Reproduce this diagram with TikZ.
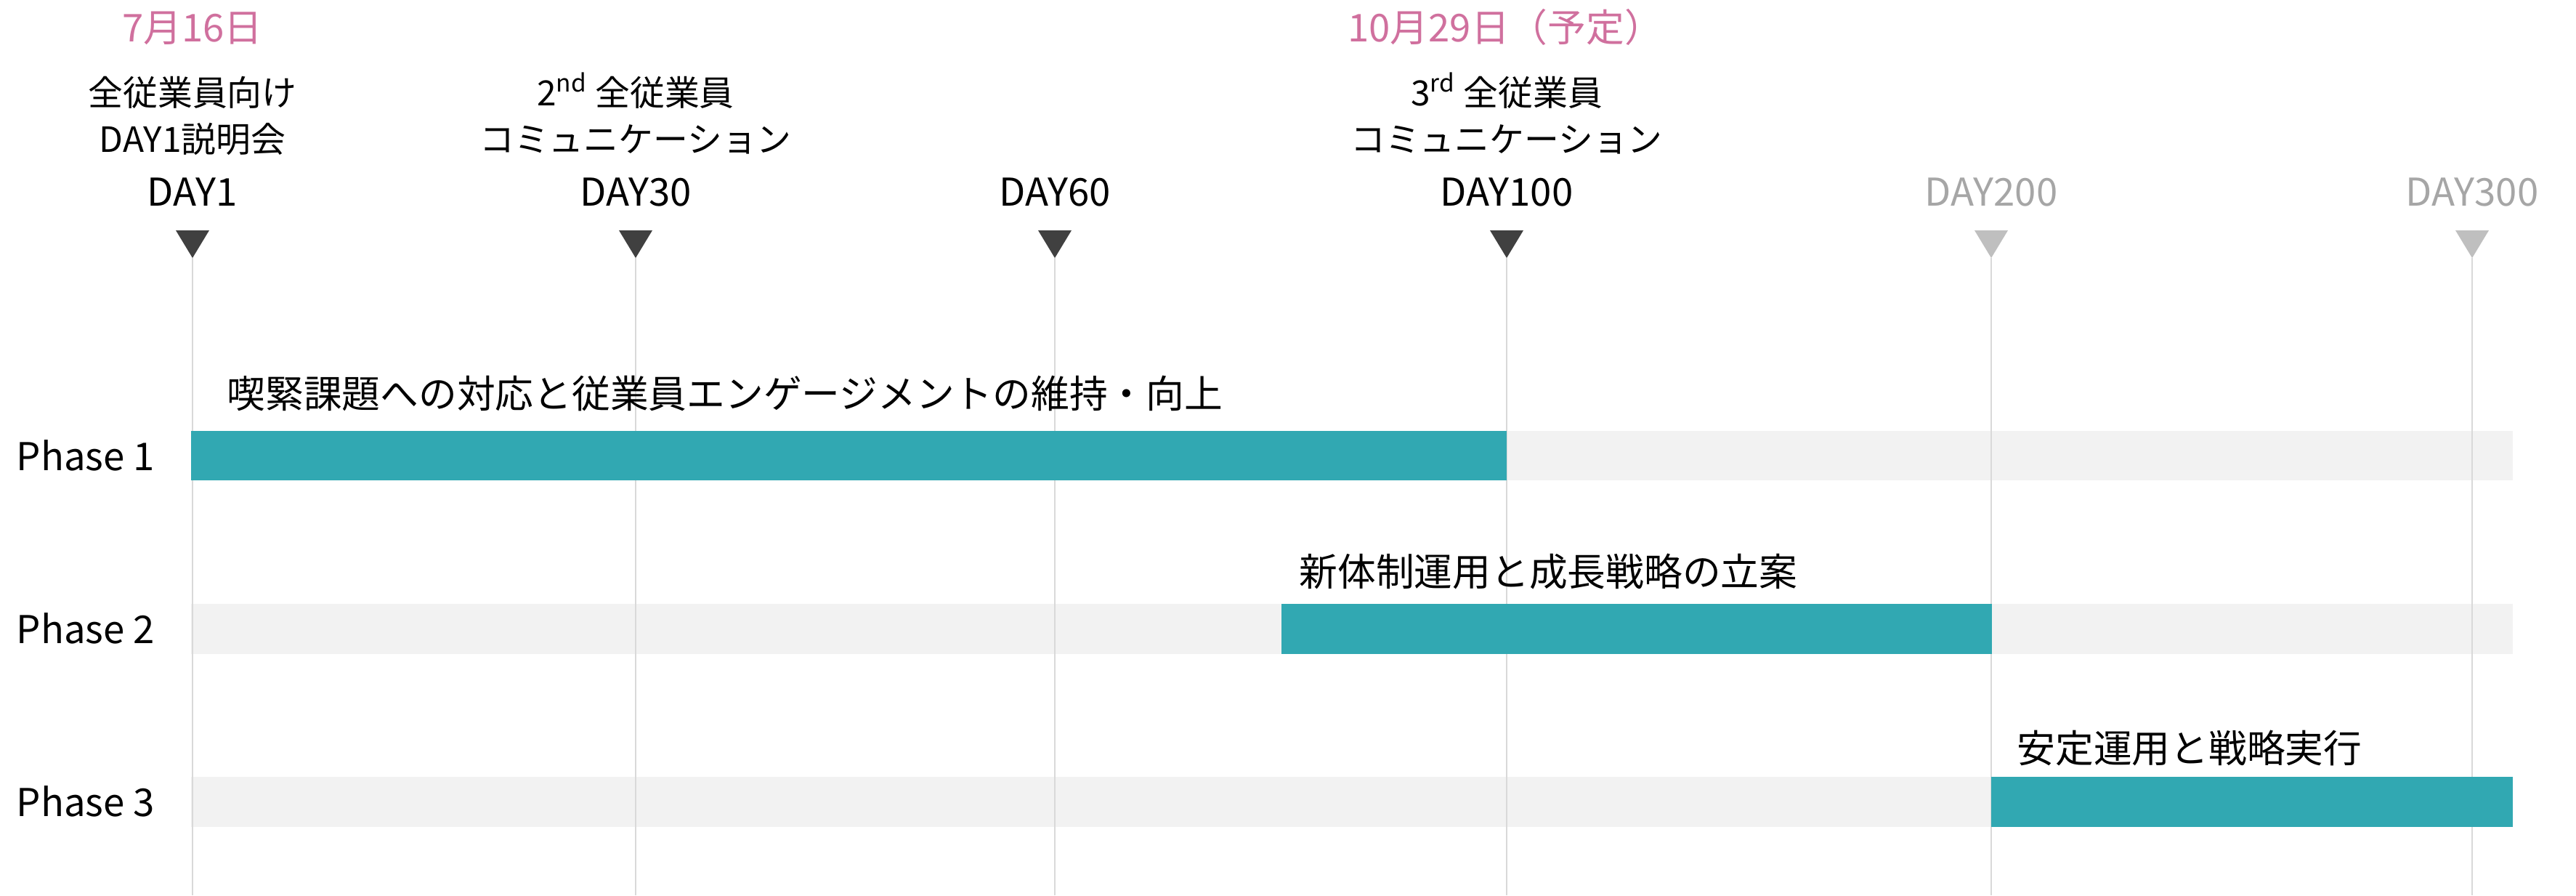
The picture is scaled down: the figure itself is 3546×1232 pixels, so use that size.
\documentclass[tikz,border=0pt]{standalone}
\usepackage{fontspec}
\setmainfont{Noto Sans CJK JP}
\usepackage{tikz}
\usetikzlibrary{positioning}
\definecolor{barteal}{RGB}{49,168,178}
\definecolor{rowgray}{RGB}{242,242,242}
\definecolor{gridgray}{RGB}{217,217,217}
\definecolor{tickdark}{RGB}{64,64,64}
\definecolor{ticklight}{RGB}{191,191,191}
\definecolor{daygray}{RGB}{166,166,166}
\definecolor{datepink}{RGB}{208,112,158}

\begin{document}
\begin{tikzpicture}[x=0.01cm,y=-0.01cm,
    txt/.style={inner sep=0pt,font=\fontsize{15}{18}\selectfont},
    ctxt/.style={txt,anchor=base},
    etxt/.style={ctxt,font=\fontsize{13.6}{16}\selectfont},
    ltxt/.style={txt,anchor=base west}]
    \useasboundingbox (0,0) rectangle (3546,1232);
    \coordinate (bottom) at (0,1232);
    \fill[rowgray] (263,593) rectangle (3459,661);
    \fill[rowgray] (263,831) rectangle (3459,900);
    \fill[rowgray] (263,1069) rectangle (3459,1138);
    \foreach \x/\n/\c in {265/1/tickdark,875/30/tickdark,1452/60/tickdark,2074/100/tickdark,2741/200/ticklight,3403/300/ticklight}{
      \coordinate (g\n) at (\x,355);
      \draw[gridgray,line width=0.6pt] (g\n) -- (g\n |- bottom);
      \fill[\c] (g\n) -- ++(-23,-38) -- ++(46,0) -- cycle;
    }
    \fill[barteal] (263,593) rectangle (2074,661);
    \fill[barteal] (1764,831) rectangle (2742,900);
    \fill[barteal] (2741,1069) rectangle (3459,1138);
    \node[ctxt] (day1) at (265,283) {DAY1};
    \node[ctxt] (day30) at (875,283) {DAY30};
    \node[ctxt] (day60) at (1452,283) {DAY60};
    \node[ctxt] (day100) at (2074,283) {DAY100};
    \node[ctxt,daygray] (day200) at (2741,283) {DAY200};
    \node[ctxt,daygray] (day300) at (3403,283) {DAY300};
    \node[ctxt,datepink] (date1) at (265,57) {7月16日};
    \node[etxt] (ev1a) at (265,145) {全従業員向け};
    \node[etxt] (ev1b) at (265,209) {DAY1説明会};
    \node[etxt] (ev2a) at (875,145) {2\textsuperscript{nd} 全従業員};
    \node[etxt] (ev2b) at (875,209) {コミュニケーション};
    \node[ctxt,datepink] (date3) at (2072,57) {10月29日（予定）};
    \node[etxt] (ev3a) at (2074,145) {3\textsuperscript{rd} 全従業員};
    \node[etxt] (ev3b) at (2074,209) {コミュニケーション};
    \node[ltxt] (ph1) at (22,647) {Phase 1};
    \node[ltxt] (ph2) at (22,885) {Phase 2};
    \node[ltxt] (ph3) at (22,1123) {Phase 3};
    \node[ltxt] (task1) at (312,561) {喫緊課題への対応と従業員エンゲージメントの維持・向上};
    \node[ltxt] (task2) at (1788,806) {新体制運用と成長戦略の立案};
    \node[ltxt] (task3) at (2776,1049) {安定運用と戦略実行};
  \end{tikzpicture}
\end{document}
